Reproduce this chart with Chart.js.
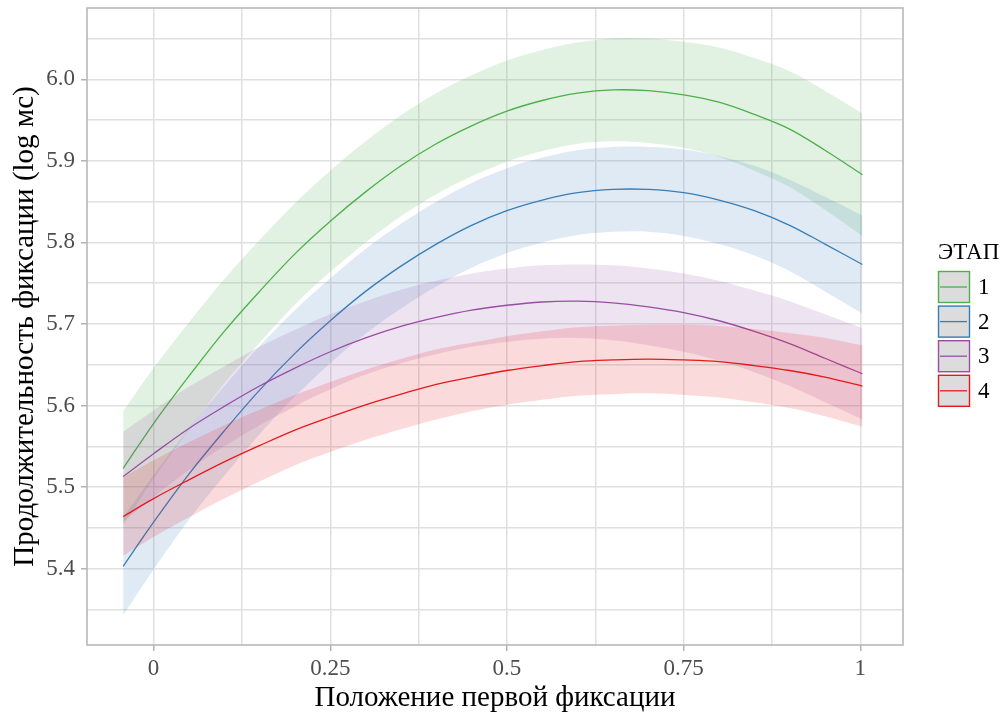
<!DOCTYPE html>
<html lang="ru">
<head>
<meta charset="utf-8">
<script src="https://cdn.jsdelivr.net/npm/chart.js@4.4.1/dist/chart.umd.min.js"></script>
<style>
  html, body { margin: 0; padding: 0; background: #ffffff; }
  #wrap { width: 1006px; height: 716px; position: relative; }
</style>
</head>
<body>
<div id="wrap"><canvas id="chart" width="1006" height="716"></canvas></div>
<script>
// Position of the first fixation (x)
const X = [-0.043, 0, 0.05, 0.1, 0.15, 0.2, 0.25, 0.3, 0.35, 0.4, 0.45, 0.5,
           0.55, 0.6, 0.65, 0.7, 0.75, 0.8, 0.85, 0.9, 0.95, 1.003];

// Stage 1
const fit1 = [5.523, 5.578, 5.636, 5.691, 5.740, 5.786, 5.826, 5.862, 5.894, 5.921, 5.943, 5.961,
              5.974, 5.983, 5.987, 5.986, 5.981, 5.972, 5.957, 5.939, 5.913, 5.883];
const hi1  = [5.593, 5.646, 5.702, 5.755, 5.803, 5.848, 5.888, 5.924, 5.956, 5.983, 6.005, 6.023,
              6.036, 6.045, 6.050, 6.050, 6.046, 6.039, 6.026, 6.010, 5.986, 5.958];
const lo1  = [5.453, 5.510, 5.570, 5.627, 5.677, 5.724, 5.764, 5.800, 5.832, 5.859, 5.881, 5.899,
              5.912, 5.921, 5.924, 5.922, 5.916, 5.905, 5.888, 5.868, 5.840, 5.808];

// Stage 2
const fit2 = [5.403, 5.457, 5.516, 5.569, 5.619, 5.664, 5.704, 5.740, 5.771, 5.798, 5.821, 5.839,
              5.852, 5.861, 5.865, 5.865, 5.861, 5.852, 5.839, 5.821, 5.798, 5.773];
const hi2  = [5.463, 5.515, 5.572, 5.624, 5.673, 5.717, 5.756, 5.792, 5.823, 5.850, 5.873, 5.891,
              5.904, 5.913, 5.917, 5.917, 5.914, 5.906, 5.894, 5.877, 5.856, 5.833];
const lo2  = [5.343, 5.399, 5.460, 5.514, 5.565, 5.611, 5.652, 5.688, 5.719, 5.746, 5.769, 5.787,
              5.800, 5.809, 5.813, 5.813, 5.808, 5.798, 5.784, 5.765, 5.740, 5.713];

// Stage 3
const fit3 = [5.513, 5.541, 5.572, 5.599, 5.624, 5.646, 5.666, 5.683, 5.697, 5.708, 5.717, 5.723,
              5.727, 5.728, 5.726, 5.721, 5.714, 5.704, 5.691, 5.676, 5.658, 5.639];
const hi3  = [5.568, 5.594, 5.623, 5.648, 5.672, 5.693, 5.712, 5.728, 5.742, 5.753, 5.762, 5.768,
              5.772, 5.773, 5.772, 5.768, 5.762, 5.753, 5.741, 5.728, 5.712, 5.695];
const lo3  = [5.458, 5.488, 5.521, 5.550, 5.576, 5.599, 5.620, 5.638, 5.652, 5.663, 5.672, 5.678,
              5.682, 5.683, 5.680, 5.674, 5.666, 5.655, 5.641, 5.624, 5.604, 5.583];

// Stage 4
const fit4 = [5.464, 5.486, 5.509, 5.531, 5.551, 5.570, 5.586, 5.601, 5.614, 5.626, 5.635, 5.643,
              5.649, 5.654, 5.656, 5.657, 5.656, 5.654, 5.649, 5.643, 5.635, 5.624];
const hi4  = [5.512, 5.533, 5.555, 5.576, 5.595, 5.613, 5.629, 5.644, 5.657, 5.669, 5.677, 5.685,
              5.691, 5.696, 5.698, 5.699, 5.699, 5.698, 5.694, 5.689, 5.683, 5.674];
const lo4  = [5.416, 5.439, 5.463, 5.486, 5.507, 5.527, 5.543, 5.558, 5.571, 5.583, 5.593, 5.601,
              5.607, 5.612, 5.614, 5.615, 5.613, 5.610, 5.604, 5.597, 5.587, 5.574];

const STAGES = ['1', '2', '3', '4'];
const COLORS = ['#4DAF4A', '#377EB8', '#984EA3', '#E41A1C'];
const FILLS  = ['rgba(77,175,74,0.16)', 'rgba(55,126,184,0.16)', 'rgba(152,78,163,0.16)', 'rgba(228,26,28,0.16)'];

// Axis ticks
const X_MAJOR = [0, 0.25, 0.5, 0.75, 1];
const X_LABELS = ['0', '0.25', '0.5', '0.75', '1'];
const X_MINOR = [0.125, 0.375, 0.625, 0.875];
const Y_MAJOR = [5.4, 5.5, 5.6, 5.7, 5.8, 5.9, 6.0];
const Y_LABELS = ['5.4', '5.5', '5.6', '5.7', '5.8', '5.9', '6.0'];
const Y_MINOR = [5.35, 5.45, 5.55, 5.65, 5.75, 5.85, 5.95, 6.05];

const X_TITLE = 'Положение первой фиксации';
const Y_TITLE = 'Продолжительность фиксации (log мс)';
const LEGEND_TITLE = 'ЭТАП';

const SERIES = [
  { fit: fit1, lo: lo1, hi: hi1 },
  { fit: fit2, lo: lo2, hi: hi2 },
  { fit: fit3, lo: lo3, hi: hi3 },
  { fit: fit4, lo: lo4, hi: hi4 }
];

const pts = arr => arr.map((v, i) => ({ x: X[i], y: v }));

// Per stage: lower bound, upper bound filled down to it, then the fitted line.
// Earlier stages sit underneath later ones.
const datasets = [];
SERIES.forEach((s, g) => {
  const base = 100 - g * 10;
  const loIndex = datasets.length;
  datasets.push({
    label: 'lo' + STAGES[g], data: pts(s.lo), borderWidth: 0, pointRadius: 0,
    borderColor: 'transparent', fill: false, order: base
  });
  datasets.push({
    label: 'hi' + STAGES[g], data: pts(s.hi), borderWidth: 0, pointRadius: 0,
    borderColor: 'transparent', backgroundColor: FILLS[g],
    fill: { target: loIndex }, order: base
  });
  datasets.push({
    label: STAGES[g], data: pts(s.fit), borderWidth: 1.3, pointRadius: 0,
    borderColor: COLORS[g], fill: false, order: base - 5
  });
});

const xMajorSet = new Set(X_MAJOR);
const yMajorSet = new Set(Y_MAJOR);
const GRID = '#e0e0e0';
const TICK = '#b3b3b3';
const SERIF = "'Liberation Serif', 'DejaVu Serif', serif";

// Full rectangular panel border
const panelBorder = {
  id: 'panelBorder',
  afterDatasetsDraw(chart) {
    const a = chart.chartArea, c = chart.ctx;
    c.save();
    c.strokeStyle = '#b8b8b8';
    c.lineWidth = 1.6;
    c.strokeRect(a.left, a.top, a.right - a.left, a.bottom - a.top);
    c.restore();
  }
};

// Legend with ribbon-style keys
const stageLegend = {
  id: 'stageLegend',
  afterDraw(chart) {
    const c = chart.ctx;
    const left = 938, keyW = 32, keyH = 32, top0 = 271, step = 34.6;
    c.save();
    c.fillStyle = '#000000';
    c.font = "23px " + SERIF;
    c.textBaseline = 'middle';
    c.textAlign = 'left';
    c.fillText(LEGEND_TITLE, left, 253);
    STAGES.forEach((name, g) => {
      const y = top0 + g * step;
      c.fillStyle = '#dcdcdc';
      c.fillRect(left, y, keyW, keyH);
      c.strokeStyle = COLORS[g];
      c.lineWidth = 1.4;
      c.strokeRect(left + 0.5, y + 0.5, keyW - 1, keyH - 1);
      c.beginPath();
      c.moveTo(left + 2, y + keyH / 2);
      c.lineTo(left + keyW - 3, y + keyH / 2);
      c.lineWidth = 1.3;
      c.stroke();
      c.fillStyle = '#000000';
      c.font = "23px " + SERIF;
      c.fillText(name, left + 40, y + keyH / 2 + 1);
    });
    c.restore();
  }
};

new Chart(document.getElementById('chart'), {
  type: 'line',
  data: { datasets },
  options: {
    responsive: false,
    animation: false,
    events: [],
    layout: { padding: { top: 8, right: 103, left: 0, bottom: 0 } },
    elements: { line: { tension: 0.35 } },
    plugins: { legend: { display: false }, tooltip: { enabled: false } },
    scales: {
      x: {
        type: 'linear', min: -0.0942, max: 1.0604,
        afterBuildTicks: s => { s.ticks = X_MAJOR.concat(X_MINOR).map(v => ({ value: v })); },
        afterFit: s => { s.height = 71; s.paddingLeft = 0; s.paddingRight = 0; },
        border: { display: false },
        grid: {
          color: GRID, lineWidth: 1.5, drawTicks: true, tickLength: 6,
          tickColor: ctx => (ctx.tick && xMajorSet.has(ctx.tick.value)) ? TICK : 'rgba(0,0,0,0)',
          tickWidth: 1.5
        },
        ticks: {
          autoSkip: false, maxRotation: 0, padding: 4, color: '#4d4d4d',
          font: { family: SERIF, size: 23 },
          callback: v => { const i = X_MAJOR.indexOf(v); return i >= 0 ? X_LABELS[i] : ''; }
        },
        title: {
          display: true, text: X_TITLE, color: '#000000',
          font: { family: SERIF, size: 29 }, padding: { top: 0, bottom: 0 }
        }
      },
      y: {
        type: 'linear', min: 5.3065, max: 6.0874,
        afterBuildTicks: s => { s.ticks = Y_MAJOR.concat(Y_MINOR).map(v => ({ value: v })); },
        afterFit: s => { s.width = 87; s.paddingTop = 0; s.paddingBottom = 0; },
        border: { display: false },
        grid: {
          color: GRID, lineWidth: 1.5, drawTicks: true, tickLength: 6,
          tickColor: ctx => (ctx.tick && yMajorSet.has(Math.round(ctx.tick.value * 100) / 100)) ? TICK : 'rgba(0,0,0,0)',
          tickWidth: 1.5
        },
        ticks: {
          autoSkip: false, padding: 6, color: '#4d4d4d',
          font: { family: SERIF, size: 23 },
          callback: v => { const i = Y_MAJOR.findIndex(m => Math.abs(m - v) < 1e-9); return i >= 0 ? Y_LABELS[i] : ''; }
        },
        title: {
          display: true, text: Y_TITLE, color: '#000000',
          font: { family: SERIF, size: 29 }, padding: { top: 8, bottom: 0 }
        }
      }
    }
  },
  plugins: [panelBorder, stageLegend]
});
</script>
</body>
</html>
